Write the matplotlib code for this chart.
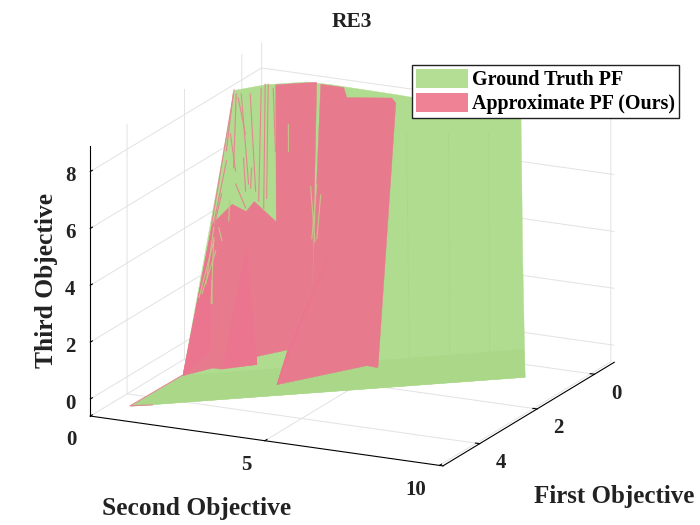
import matplotlib
matplotlib.use("Agg")
import matplotlib.pyplot as plt
from matplotlib.patches import Patch
from mpl_toolkits.mplot3d.art3d import Poly3DCollection

plt.rcParams['font.family'] = ['Liberation Serif', 'DejaVu Serif']
plt.rcParams['font.weight'] = 'bold'

GREEN = '#b0dc90'
PINK = '#e87a8e'

# ground truth front
gt_x = [4.934, 2.166, 0.854, -0.626, -0.094, 0.227, 0.346, 0.624, 0.878, 4.282]
gt_y = [0.865, 9.880, 8.730, 7.467, 4.405, 2.661, 2.099, 1.181, 0.502, 1.816]
gt_z = [-0.297, 0.595, 3.919, 7.649, 8.190, 8.460, 8.514, 8.433, 8.271, 0.541]

# darker lower band of the ground truth
band_x = [4.934, 2.166, 1.871, 4.282]
band_y = [0.865, 9.880, 9.605, 1.816]
band_z = [-0.297, 0.595, 1.351, 0.541]

# approximate front, left piece
apa_x = [4.282, 2.462, 2.124, 2.113, 1.956, 2.038, 0.563, 0.279, 2.463, 3.348, 3.613, 3.699, 3.967, 4.012]
apa_y = [1.816, 1.161, 1.454, 1.848, 1.947, 2.646, 1.417, 2.359, 4.036, 4.055, 3.385, 3.457, 2.674, 2.453]
apa_z = [0.541, 4.649, 5.190, 5.000, 5.271, 4.730, 8.433, 8.514, 3.108, 1.271, 1.081, 0.865, 0.730, 0.757]

# approximate front, right piece
apb_x = [0.276, 0.167, 0.257, -0.019, 0.011, 2.980, 3.026, 3.793, 3.348, 2.463]
apb_y = [2.472, 3.042, 3.203, 4.266, 4.405, 6.335, 6.057, 4.109, 4.055, 4.036]
apb_z = [8.460, 8.379, 8.108, 8.108, 7.973, 0.811, 0.865, 0.325, 1.271, 3.108]

# stronger pink facets
facet_x = [[3.950, 2.511, 3.699], [3.793, 2.036, 3.348], [4.282, 2.462, 3.847]]
facet_y = [[2.689, 2.180, 3.457], [4.109, 4.169, 4.055], [1.816, 1.161, 2.230]]
facet_z = [[0.757, 4.000, 0.865], [0.325, 3.919, 1.271], [0.541, 4.649, 1.217]]

# pink streaks over the green part
ps_x = [[0.927, 1.584], [0.908, 1.724], [0.878, 1.804], [0.691, 1.926], [0.606, 1.845], [0.618, 1.284],
        [1.376, 1.744], [1.692, 2.449], [1.884, 2.081], [0.878, 2.462], [4.934, 4.282], [4.934, 4.789],
        [0.939, 1.284], [0.823, 1.837], [0.624, 1.971], [1.614, 1.835], [1.555, 1.898], [2.077, 2.492]]
ps_y = [[0.515, 0.860], [0.585, 1.179], [0.704, 1.676], [1.122, 2.065], [1.252, 2.227], [1.406, 2.018],
        [0.803, 1.253], [0.950, 1.208], [1.369, 1.821], [0.502, 1.161], [0.865, 1.816], [0.865, 1.376],
        [0.668, 1.157], [0.916, 1.904], [1.181, 2.246], [1.604, 1.759], [1.325, 1.668], [1.128, 1.244]]
ps_z = [[8.163, 6.622], [8.163, 6.163], [8.163, 5.730], [8.325, 5.271], [8.433, 5.352], [8.325, 6.622],
        [7.081, 6.081], [6.352, 4.649], [5.730, 5.081], [8.271, 4.649], [-0.297, 0.541], [-0.297, -0.270],
        [8.054, 7.081], [8.163, 5.541], [8.433, 5.081], [6.163, 5.622], [6.433, 5.541], [5.460, 4.541]]

# green streaks over the pink part
gs_x = [[2.492, 3.144], [2.600, 3.329], [2.462, 2.583], [1.446, 2.014], [0.913, 1.204], [1.388, 2.000],
        [1.471, 1.970], [2.103, 2.325], [3.338, 2.632], [3.277, 2.728], [3.323, 3.076]]
gs_y = [[1.244, 1.558], [1.334, 1.855], [1.362, 1.550], [3.159, 3.748], [2.083, 2.325], [3.283, 3.650],
        [3.468, 3.768], [1.380, 1.535], [1.517, 1.361], [1.552, 1.498], [1.879, 1.673]]
gs_z = [[4.541, 3.027], [4.271, 2.487], [4.541, 4.190], [5.676, 4.190], [7.352, 6.622], [5.730, 4.271],
        [5.460, 4.271], [5.271, 4.730], [2.649, 4.190], [2.757, 3.919], [2.487, 3.108]]

# faint mesh lines on the green wall
mesh_x = [[2.676, 0.266], [2.377, 0.009], [2.132, -0.236]]
mesh_y = [[7.001, 4.935], [7.901, 5.927], [8.847, 6.873]]
mesh_z = [[1.081, 7.163], [1.217, 7.163], [1.217, 7.163]]

x_ticks = [0, 2, 4]
y_ticks = [0, 5, 10]
z_ticks = [0, 2, 4, 6, 8]
x_lim = (-0.69, 5.28)
y_lim = (0, 10.1)
z_lim = (-0.6, 8.9)


def add_poly(ax, xs, ys, zs, color, order, alpha=1.0):
    verts = [list(zip(xs, ys, zs))]
    p = Poly3DCollection(verts, facecolors=color, edgecolors=color, linewidths=0.3, alpha=alpha, zorder=order)
    ax.add_collection3d(p, autolim=False)


fig = plt.figure(figsize=(7, 5.25), dpi=100)
ax = fig.add_axes([-4.8 / 700, 1.3 / 525, 1, 1], projection='3d', computed_zorder=False)
ax.set_proj_type('ortho')
ax.view_init(elev=17, azim=25.8)
ax.set_box_aspect((393, 391, 282), zoom=1.152)
ax.set_xlim(*x_lim)
ax.set_ylim(*y_lim)
ax.set_zlim(*z_lim)
ax.patch.set_alpha(0)

add_poly(ax, gt_x, gt_y, gt_z, GREEN, 2)
add_poly(ax, band_x, band_y, band_z, '#aad888', 3)
for mx, my, mz in zip(mesh_x, mesh_y, mesh_z):
    ax.plot(mx, my, mz, color='#a6d484', lw=0.6, alpha=0.6, zorder=4)
add_poly(ax, apa_x, apa_y, apa_z, PINK, 5)
add_poly(ax, apb_x, apb_y, apb_z, PINK, 5)
for fx, fy, fz in zip(facet_x, facet_y, facet_z):
    add_poly(ax, fx, fy, fz, '#ee7390', 6, alpha=0.6)
for sx, sy, sz in zip(ps_x, ps_y, ps_z):
    ax.plot(sx, sy, sz, color='#e08a8e', lw=0.8, zorder=7)
for sx, sy, sz in zip(gs_x, gs_y, gs_z):
    ax.plot(sx, sy, sz, color='#c4c488', lw=0.8, zorder=7)

ax.set_xticks(x_ticks)
ax.set_yticks(y_ticks)
ax.set_zticks(z_ticks)
ax.tick_params(labelsize=15)
ax.xaxis.set_tick_params(pad=7)
ax.yaxis.set_tick_params(pad=7.5)
ax.zaxis.set_tick_params(pad=-0.5)

for axis in (ax.xaxis, ax.yaxis, ax.zaxis):
    axis.set_pane_color((1, 1, 1, 0))
    axis.pane.set_edgecolor((1, 1, 1, 0))
    axis._axinfo['grid']['color'] = '#e2e2e2'
    axis._axinfo['grid']['linewidth'] = 0.7
    axis._axinfo['axisline']['color'] = '#222222'
    axis._axinfo['axisline']['linewidth'] = 0.7
    axis._axinfo['tick']['color'] = '#222222'
    axis._axinfo['tick']['inward_factor'] = 0.0
    axis._axinfo['tick']['outward_factor'] = 0.15
    for lab in axis.get_ticklabels():
        lab.set_fontweight('bold')
        lab.set_color('#222222')
        lab.set_va('baseline')
for lab in ax.yaxis.get_ticklabels():
    lab.set_ha('right')
for lab in ax.xaxis.get_ticklabels():
    lab.set_ha('right')
for lab in ax.zaxis.get_ticklabels():
    lab.set_va('center_baseline')

fig.text(352 / 700, 1 - 22 / 525, 'RE3', ha='center', va='center', fontsize=15.5, color='#222222')
fig.text(197 / 700, 1 - 509 / 525, 'Second Objective', ha='center', va='center', fontsize=18.4, color='#222222')
fig.text(614 / 700, 1 - 496 / 525, 'First Objective', ha='center', va='center', fontsize=18, color='#222222')
fig.text(47 / 700, 1 - 280 / 525, 'Third Objective', ha='center', va='center', rotation=90, fontsize=18.4, color='#222222')

handles = [Patch(facecolor='#b4de94', label='Ground Truth PF'), Patch(facecolor='#f08296', label='Approximate PF (Ours)')]
fig.legend(handles=handles, loc='upper left', bbox_to_anchor=(412 / 700, 1 - 65 / 525), fontsize=14.4,
           frameon=True, fancybox=False, edgecolor='#222222', framealpha=1, borderpad=0.2, handlelength=2.6,
           handleheight=1.05, handletextpad=0.2, labelspacing=0.15, borderaxespad=0)

fig.savefig('out.png', dpi=100)
